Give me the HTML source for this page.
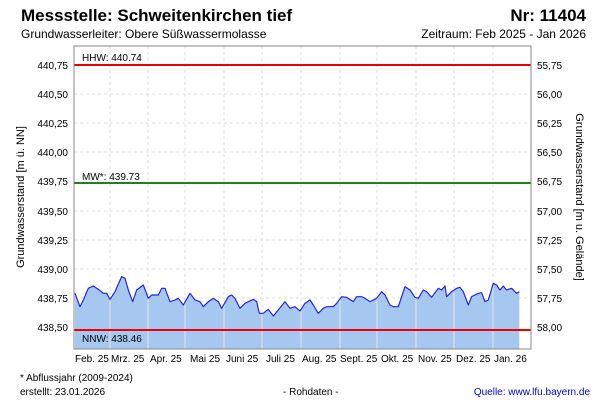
<!DOCTYPE html>
<html><head><meta charset="utf-8"><style>
body{margin:0;background:#fff;width:600px;height:400px;overflow:hidden;font-family:"Liberation Sans",sans-serif}
</style></head><body>
<svg width="600" height="400" xmlns="http://www.w3.org/2000/svg" font-family="Liberation Sans, sans-serif">
<text x="21" y="21" font-size="17" font-weight="bold">Messstelle: Schweitenkirchen tief</text>
<text x="586" y="21" font-size="17" font-weight="bold" text-anchor="end">Nr: 11404</text>
<text x="21" y="38" font-size="12">Grundwasserleiter:   Obere Süßwassermolasse</text>
<text x="586" y="38" font-size="12" text-anchor="end">Zeitraum: Feb 2025 - Jan 2026</text>
<g stroke="#ddd" stroke-dasharray="3,3" stroke-width="1">
<line x1="74" x2="531" y1="94" y2="94"/><line x1="74" x2="531" y1="123" y2="123"/><line x1="74" x2="531" y1="152" y2="152"/><line x1="74" x2="531" y1="211" y2="211"/><line x1="74" x2="531" y1="240" y2="240"/><line x1="74" x2="531" y1="269" y2="269"/><line x1="74" x2="531" y1="298" y2="298"/>
<line x1="110" x2="110" y1="46" y2="349"/><line x1="148" x2="148" y1="46" y2="349"/><line x1="185" x2="185" y1="46" y2="349"/><line x1="224" x2="224" y1="46" y2="349"/><line x1="262" x2="262" y1="46" y2="349"/><line x1="301" x2="301" y1="46" y2="349"/><line x1="340" x2="340" y1="46" y2="349"/><line x1="377" x2="377" y1="46" y2="349"/><line x1="416" x2="416" y1="46" y2="349"/><line x1="454" x2="454" y1="46" y2="349"/><line x1="493" x2="493" y1="46" y2="349"/>
</g>
<g transform="translate(60,260) scale(0.3333)">
<polygon fill="#a6c8f0" points="45,267 45,100 60,140 70,120 85,85 100,78 115,88 130,100 140,100 150,118 165,95 185,50 195,55 205,90 218,125 230,90 250,75 265,115 275,105 295,105 305,85 315,85 330,125 345,120 355,115 370,135 390,100 405,120 420,125 430,140 445,125 460,115 475,125 485,145 505,110 515,105 525,115 540,145 555,130 565,125 580,118 590,125 598,160 610,160 625,148 640,168 655,150 675,125 690,145 705,140 720,153 735,130 750,120 760,135 775,160 790,145 800,140 820,140 830,130 845,110 860,112 880,125 890,110 905,110 915,115 930,125 950,115 965,95 975,105 990,135 1000,140 1015,140 1025,110 1035,80 1050,90 1065,112 1075,115 1090,90 1100,95 1115,112 1135,85 1145,90 1155,78 1160,110 1175,95 1190,85 1200,82 1210,95 1225,135 1235,110 1255,100 1265,98 1275,125 1285,120 1300,70 1310,75 1320,90 1330,78 1340,90 1355,85 1365,95 1370,100 1378,95 1378,267"/>
<g stroke="#e4e4e4" stroke-width="3"><line x1="150" x2="150" y1="118" y2="267"/><line x1="264" x2="264" y1="110" y2="267"/><line x1="375" x2="375" y1="120" y2="267"/><line x1="492" x2="492" y1="130" y2="267"/><line x1="606" x2="606" y1="160" y2="267"/><line x1="723" x2="723" y1="150" y2="267"/><line x1="840" x2="840" y1="120" y2="267"/><line x1="951" x2="951" y1="115" y2="267"/><line x1="1068" x2="1068" y1="115" y2="267"/><line x1="1182" x2="1182" y1="95" y2="267"/><line x1="1299" x2="1299" y1="72" y2="267"/></g>
<polyline fill="none" stroke="#2020e0" stroke-width="3.5" stroke-linejoin="round" points="45,100 60,140 70,120 85,85 100,78 115,88 130,100 140,100 150,118 165,95 185,50 195,55 205,90 218,125 230,90 250,75 265,115 275,105 295,105 305,85 315,85 330,125 345,120 355,115 370,135 390,100 405,120 420,125 430,140 445,125 460,115 475,125 485,145 505,110 515,105 525,115 540,145 555,130 565,125 580,118 590,125 598,160 610,160 625,148 640,168 655,150 675,125 690,145 705,140 720,153 735,130 750,120 760,135 775,160 790,145 800,140 820,140 830,130 845,110 860,112 880,125 890,110 905,110 915,115 930,125 950,115 965,95 975,105 990,135 1000,140 1015,140 1025,110 1035,80 1050,90 1065,112 1075,115 1090,90 1100,95 1115,112 1135,85 1145,90 1155,78 1160,110 1175,95 1190,85 1200,82 1210,95 1225,135 1235,110 1255,100 1265,98 1275,125 1285,120 1300,70 1310,75 1320,90 1330,78 1340,90 1355,85 1365,95 1370,100 1378,95"/>
</g>
<line x1="74" x2="531" y1="65" y2="65" stroke="#e00" stroke-width="2"/>
<line x1="74" x2="531" y1="183" y2="183" stroke="#208020" stroke-width="2"/>
<line x1="74" x2="531" y1="330" y2="330" stroke="#e00" stroke-width="2"/>
<g font-size="10"><text x="82" y="61">HHW: 440.74</text><text x="82" y="180">MW*: 439.73</text><text x="82" y="342">NNW: 438.46</text></g>
<rect x="74" y="46" width="457" height="303" fill="none" stroke="#888"/>
<g font-size="10" text-anchor="end">
<text x="68" y="69">440,75</text><text x="68" y="98">440,50</text><text x="68" y="127">440,25</text><text x="68" y="156">440,00</text><text x="68" y="185">439,75</text><text x="68" y="215">439,50</text><text x="68" y="244">439,25</text><text x="68" y="273">439,00</text><text x="68" y="302">438,75</text><text x="68" y="331">438,50</text>
</g>
<g font-size="10">
<text x="537" y="69">55,75</text><text x="537" y="98">56,00</text><text x="537" y="127">56,25</text><text x="537" y="156">56,50</text><text x="537" y="185">56,75</text><text x="537" y="215">57,00</text><text x="537" y="244">57,25</text><text x="537" y="273">57,50</text><text x="537" y="302">57,75</text><text x="537" y="331">58,00</text>
</g>
<text transform="translate(24,197) rotate(-90)" font-size="11" text-anchor="middle">Grundwasserstand [m ü. NN]</text>
<text transform="translate(576,197) rotate(90)" font-size="11" text-anchor="middle">Grundwasserstand [m u. Gelände]</text>
<g font-size="10"><text x="75" y="362">Feb. 25</text><text x="111" y="362">Mrz. 25</text><text x="150" y="362">Apr. 25</text><text x="190" y="362">Mai 25</text><text x="226" y="362">Juni 25</text><text x="266" y="362">Juli 25</text><text x="302" y="362">Aug. 25</text><text x="340" y="362">Sept. 25</text><text x="381" y="362">Okt. 25</text><text x="418" y="362">Nov. 25</text><text x="456" y="362">Dez. 25</text><text x="494" y="362">Jan. 26</text>
<text x="20" y="381">* Abflussjahr (2009-2024)</text>
<text x="20" y="395">erstellt:  23.01.2026</text>
<text x="283" y="395">- Rohdaten -</text>
<text x="590" y="395" text-anchor="end" fill="#0000e0">Quelle: www.lfu.bayern.de</text></g>
</svg>
</body></html>
